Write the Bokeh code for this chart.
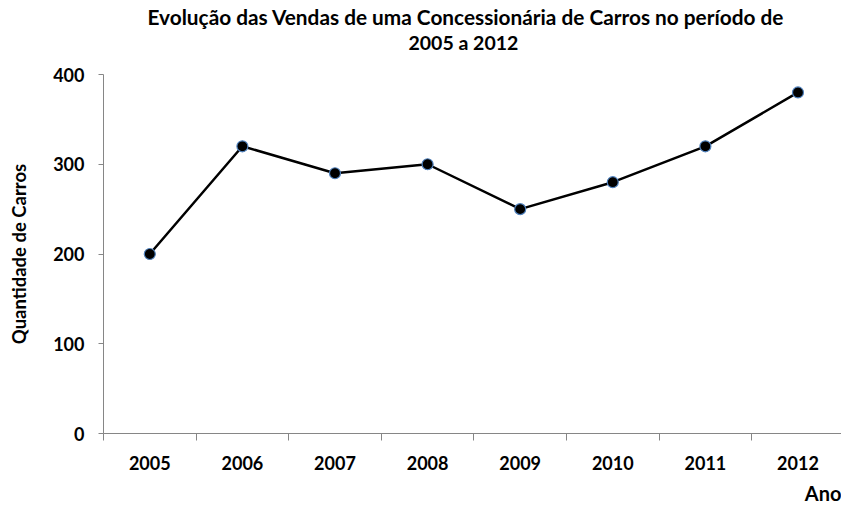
from bokeh.plotting import figure
from bokeh.models import FixedTicker, Title, Range1d, ColumnDataSource
from bokeh.embed import file_html
from bokeh.resources import INLINE

years = ["2005", "2006", "2007", "2008", "2009", "2010", "2011", "2012"]
sales = [200, 320, 290, 300, 250, 280, 320, 380]
y_ticks = [0, 100, 200, 300, 400]

xs = list(range(len(years)))
src = ColumnDataSource(dict(x=xs, y=sales))

FONT = "Lato"
X_END = 7.47
p = figure(width=841, height=511, output_backend="svg", toolbar_location=None,
           x_range=Range1d(-0.5, X_END), y_range=Range1d(0, 400),
           min_border_left=103, min_border_right=0, min_border_top=74, min_border_bottom=77)
p.outline_line_color = None
p.xgrid.grid_line_color = None
p.ygrid.grid_line_color = None

p.line("x", "y", source=src, line_color="black", line_width=2.5)
p.scatter("x", "y", source=src, size=11, fill_color="black", line_color="#4f81bd", line_width=1.2)

axis_col = "#868686"
xa = p.xaxis[0]
xa.ticker = FixedTicker(ticks=xs, minor_ticks=[i - 0.5 for i in range(len(years) + 1)])
xa.major_label_overrides = {i: y for i, y in enumerate(years)}
xa.major_tick_line_color = None
xa.major_tick_out = 0
xa.major_tick_in = 0
xa.minor_tick_line_color = axis_col
xa.minor_tick_out = 7
xa.minor_tick_in = 0
xa.axis_line_color = axis_col
xa.major_label_text_font = FONT
xa.major_label_text_font_style = "bold"
xa.major_label_text_font_size = "18px"
xa.major_label_text_color = "black"
xa.major_label_standoff = 15

ya = p.yaxis[0]
ya.ticker = FixedTicker(ticks=y_ticks)
ya.minor_tick_line_color = None
ya.major_tick_line_color = axis_col
ya.major_tick_out = 5
ya.major_tick_in = 0
ya.axis_line_color = axis_col
ya.major_label_text_font = FONT
ya.major_label_text_font_style = "bold"
ya.major_label_text_font_size = "18px"
ya.major_label_text_color = "black"
ya.major_label_standoff = 14
ya.axis_label = "Quantidade de Carros"
ya.axis_label_text_font = FONT
ya.axis_label_text_font_style = "bold"
ya.axis_label_text_font_size = "18.5px"
ya.axis_label_text_color = "black"
ya.axis_label_standoff = 20

# spacer between title block and plot area
p.add_layout(Title(text=" ", text_font_size="10px", standoff=7), "above")
p.add_layout(Title(text="2005 a 2012", align="left", text_font=FONT, text_font_style="bold",
                   text_font_size="19.5px", text_color="black", offset=305, standoff=1), "above")
p.add_layout(Title(text="Evolução das Vendas de uma Concessionária de Carros no período de",
                   align="left", text_font=FONT, text_font_style="bold",
                   text_font_size="20.8px", text_color="black", offset=44, standoff=0), "above")

p.add_layout(Title(text="Ano", align="right", text_font=FONT, text_font_style="bold",
                   text_font_size="20px", text_color="black", standoff=13), "below")

open("out.html", "w").write(file_html(p, INLINE))
